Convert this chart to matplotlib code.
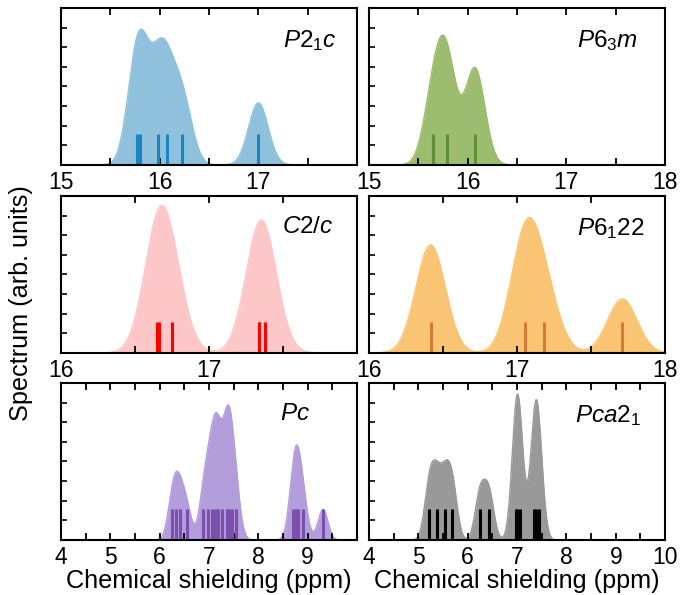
import matplotlib
matplotlib.use("Agg")
import matplotlib.pyplot as plt
import numpy as np
from matplotlib.ticker import MultipleLocator

plt.rcParams['font.family'] = ['Liberation Sans', 'DejaVu Sans']
plt.rcParams['mathtext.fontset'] = 'custom'
plt.rcParams['mathtext.it'] = 'Liberation Sans:italic'
plt.rcParams['mathtext.rm'] = 'Liberation Sans'
plt.rcParams['font.size'] = 16.5

# stick positions (ppm) and relative weights for each structure
p21c_pos = [15.77, 15.80, 15.98, 16.07, 16.23, 17.00]
p21c_w = [1, 1, 1, 1, 1, 1]
p63m_pos = [15.653, 15.788, 16.074]
p63m_w = [2, 3, 3]
c2c_pos = [16.648, 16.66, 16.748, 17.336, 17.34, 17.376]
c2c_w = [1, 1, 1, 1, 0.5, 1]
p6122_pos = [16.416, 17.052, 17.184, 17.711]
p6122_w = [2, 2, 1, 1]
pc_pos = [6.25, 6.33, 6.42, 6.55,
          6.88, 6.97, 7.05, 7.12, 7.16, 7.19, 7.27, 7.36, 7.38, 7.40,
          7.47, 7.55,
          8.70, 8.76, 8.80, 8.91, 9.31]
pc_w = [0.9, 0.9, 0.9, 0.9,
        1, 1, 1, 1, 1, 1, 0.5, 1, 1, 1,
        1, 1,
        1, 1, 1, 1, 1]
pca21_pos = [5.22, 5.37, 5.54, 5.69, 6.25, 6.43, 6.98, 7.00, 7.05, 7.34, 7.39, 7.44]
pca21_w = [1, 1, 1, 1, 0.9, 0.9, 1, 1, 1, 1, 1, 1]

names = [r'$\mathit{P2_1c}$', r'$\mathit{P6_3m}$', r'$\mathit{C2/c}$',
         r'$\mathit{P6_122}$', r'$\mathit{Pc}$', r'$\mathit{Pca2_1}$']
xlims = [(15, 18), (15, 18), (16, 18), (16, 18), (4, 10), (4, 10)]
spec_ranges = [(15, 18), (15, 17), (16, 18), (16, 18), (4, 10), (4, 8)]
peak_frac = [0.865, 0.827, 0.94, 0.863, 0.86, 0.93]
fill_colors = ['#8fc1dc', '#9cbd6f', '#fdc7c7', '#f9c574', '#b39ddb', '#999999']
stick_colors = ['#1a83c2', '#5f8f34', '#ff0000', '#d67a30', '#7a4fae', '#000000']
sigma = 0.1

positions = [p21c_pos, p63m_pos, c2c_pos, p6122_pos, pc_pos, pca21_pos]
weights = [p21c_w, p63m_w, c2c_w, p6122_w, pc_w, pca21_w]

fig = plt.figure(figsize=(6.95, 5.95), dpi=100)
lefts = [0.0878, 0.531]
bottoms = [0.7227, 0.4067, 0.0924]
w, h = 0.426, 0.264
label_x = [0.93, 0.91, 0.92, 0.93, 0.84, 0.92]

for i in range(6):
    ax = fig.add_axes([lefts[i % 2], bottoms[i // 2], w, h])
    lo, hi = spec_ranges[i]
    x = np.linspace(lo, hi, 2000)
    y = np.zeros_like(x)
    for c, wt in zip(positions[i], weights[i]):
        y += wt * np.exp(-(x - c) ** 2 / (2 * sigma ** 2))
    y /= y.max()
    ax.fill_between(x, 0, y, color=fill_colors[i], lw=0, zorder=1)
    ax.plot(x, y, color=fill_colors[i], lw=1.0, zorder=1)
    ax.vlines(positions[i], 0, 0.2, colors=stick_colors[i], lw=2.2,
              transform=ax.get_xaxis_transform(), zorder=2)
    ax.set_xlim(*xlims[i])
    top = 1 / peak_frac[i]
    ax.set_ylim(0, top)
    ax.xaxis.set_major_locator(MultipleLocator(1))
    ax.xaxis.set_minor_locator(MultipleLocator(0.5))
    ax.yaxis.set_major_locator(MultipleLocator(top / 8))
    ax.tick_params(axis='x', which='both', direction='in', top=True,
                   length=5, width=1.3, pad=4)
    ax.tick_params(axis='y', which='both', direction='in', right=False,
                   length=4, width=1.2, labelleft=False)
    for s in ax.spines.values():
        s.set_linewidth(1.5)
    if i % 2 == 0:
        ticks = np.arange(xlims[i][0], xlims[i][1])
        ax.set_xticks(ticks)
    ax.text(label_x[i], 0.87, names[i], transform=ax.transAxes,
            ha='right', va='top', fontsize=17.5)
    if i >= 4:
        ax.set_xlabel('Chemical shielding (ppm)', fontsize=18.2, labelpad=0)

fig.text(0.03, 0.49, 'Spectrum (arb. units)', rotation=90,
         ha='center', va='center', fontsize=18.2)

fig.savefig('out.png', dpi=100)
